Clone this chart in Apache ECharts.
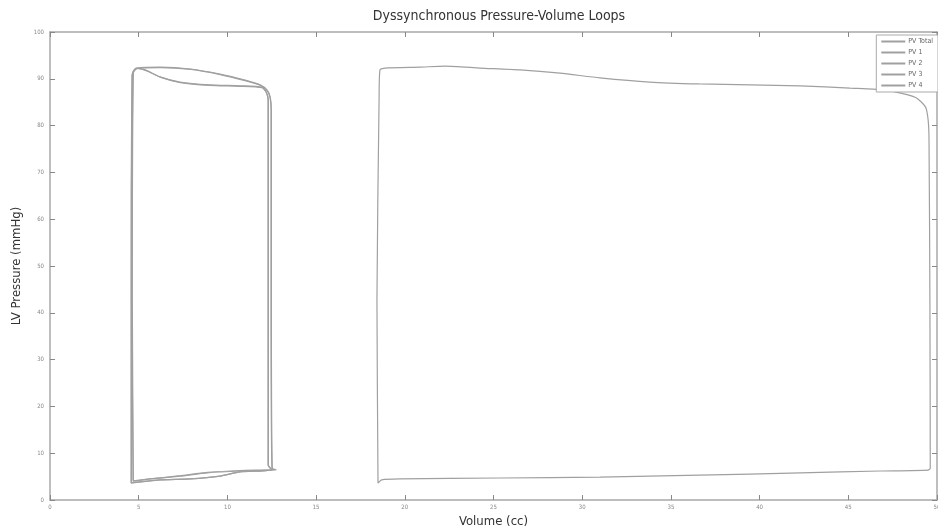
<!DOCTYPE html>
<html><head><meta charset="utf-8">
<script src="https://cdn.jsdelivr.net/npm/echarts@6/dist/echarts.min.js"></script>
<style>html,body{margin:0;padding:0;background:#fff;overflow:hidden}#c{position:absolute;left:0;top:0;width:938px;height:531px}</style>
</head><body><div id="c"></div>
<script>
// [volume (cc), pressure (mmHg)]
const pvTotal = [[18.49,3.6],[18.43,42.7],[18.55,85.5],[18.6,91.9],[18.88,92.3],[20.86,92.5],[22.27,92.7],[24.24,92.3],[26.5,91.9],[28.75,91.2],[31.0,90.2],[33.8,89.3],[36.6,88.9],[39.5,88.7],[42.3,88.5],[45.1,88.0],[46.4,87.8],[47.5,87.3],[48.8,86.0],[49.35,84.0],[49.5,81.2],[49.55,77],[49.6,42.7],[49.62,6.8],[49.5,6.4],[46.8,6.2],[42.3,5.8],[36.6,5.3],[31.0,4.9],[25.4,4.7],[19.7,4.5],[18.7,4.3],[18.49,3.6]];
const pv1 = [[4.68,4.1],[4.62,42.7],[4.68,91.5],[4.9,92.3],[6.2,92.5],[7.9,92.1],[9.58,91.0],[11.0,89.7],[11.84,88.7],[12.23,87.6],[12.4,86.1],[12.46,83.3],[12.46,42.7],[12.51,6.8],[12.74,6.4],[10.7,6.2],[8.85,5.8],[7.33,5.1],[5.64,4.5],[4.68,4.1]];
const pv2 = [[4.7,4.0],[4.64,42.7],[4.7,91.4],[4.92,92.2],[6.25,92.4],[7.95,92.0],[9.6,90.9],[11.0,89.6],[11.86,88.6],[12.25,87.5],[12.42,86.0],[12.48,83.2],[12.48,42.7],[12.53,6.8],[12.74,6.5],[10.7,6.3],[8.9,5.9],[7.35,5.2],[5.66,4.5],[4.7,4.0]];
const pv3 = [[4.57,3.6],[4.57,42.7],[4.62,90.8],[4.85,92.3],[5.36,91.9],[6.2,90.4],[7.33,89.3],[9.0,88.7],[10.7,88.5],[11.95,88.2],[12.18,87.2],[12.29,85.5],[12.29,42.7],[12.29,7.5],[12.5,6.4],[10.7,6.0],[9.58,5.1],[7.9,4.5],[6.2,4.3],[4.57,3.6]];
const pv4 = [[4.59,3.7],[4.59,42.7],[4.64,90.7],[4.87,92.2],[5.4,91.8],[6.25,90.3],[7.35,89.2],[9.0,88.6],[10.7,88.4],[11.95,88.1],[12.2,87.1],[12.31,85.4],[12.31,42.7],[12.31,7.5],[12.52,6.4],[10.7,6.0],[9.6,5.1],[7.9,4.5],[6.2,4.3],[4.59,3.7]];
const seriesNames = ['PV Total','PV 1','PV 2','PV 3','PV 4'];
const xTicks = [0,5,10,15,20,25,30,35,40,45,50];
const yTicks = [0,10,20,30,40,50,60,70,80,90,100];

const font = '"Liberation Sans Narrow", "DejaVu Sans Condensed", sans-serif';
const lineColor = '#a0a0a0';
const axisColor = '#a8a8a8';
const datasets = [pvTotal, pv1, pv2, pv3, pv4];

const chart = echarts.init(document.getElementById('c'), null, {renderer:'canvas',width:938,height:531});
const baseAxis = {
  axisLine:{show:true,onZero:false,lineStyle:{color:axisColor,width:1.5}},
  axisTick:{show:true,inside:true,length:5,lineStyle:{color:'#888'}},
  splitLine:{show:false}
};
chart.setOption({
  animation:false,
  backgroundColor:'#fff',
  title:{text:'Dyssynchronous Pressure-Volume Loops',left:494,top:4,textAlign:'center',
    textStyle:{fontFamily:font,fontSize:14,fontWeight:'normal',color:'#333'}},
  grid:{left:50,right:1,top:32,bottom:31,containLabel:false,outerBoundsMode:'none'},
  legend:{data:seriesNames,orient:'vertical',right:0,top:35,itemWidth:24,itemHeight:2,itemGap:4,
    icon:'rect',
    backgroundColor:'#fff',borderColor:'#aaa',borderWidth:1,padding:[3,5,3,5],
    textStyle:{fontFamily:font,fontSize:7,color:'#666',padding:[0,0,0,-2]}},
  xAxis:[
    Object.assign({},baseAxis,{type:'value',min:0,max:50,interval:5,position:'bottom',
      name:'Volume (cc)',nameLocation:'middle',nameGap:14,
      nameTextStyle:{fontFamily:font,fontSize:13,color:'#333'},
      axisLabel:{fontFamily:font,fontSize:6,color:'#888',margin:4,
        formatter:v=>xTicks.includes(v)?String(v):''}}),
    Object.assign({},baseAxis,{type:'value',min:0,max:50,interval:5,position:'top',axisLabel:{show:false}})
  ],
  yAxis:[
    Object.assign({},baseAxis,{type:'value',min:0,max:100,interval:10,position:'left',
      name:'LV Pressure (mmHg)',nameLocation:'middle',nameGap:23,
      nameTextStyle:{fontFamily:font,fontSize:13,color:'#333'},
      axisLabel:{fontFamily:font,fontSize:6,color:'#888',margin:6,
        formatter:v=>yTicks.includes(v)?String(v):''}}),
    Object.assign({},baseAxis,{type:'value',min:0,max:100,interval:10,position:'right',axisLabel:{show:false}})
  ],
  series: datasets.map((d,i)=>({
    name:seriesNames[i],type:'line',data:d,showSymbol:false,symbol:'none',
    xAxisIndex:0,yAxisIndex:0,smooth:0.2,
    lineStyle:{color:lineColor,width:1.2},itemStyle:{color:lineColor}
  }))
});
</script></body></html>
